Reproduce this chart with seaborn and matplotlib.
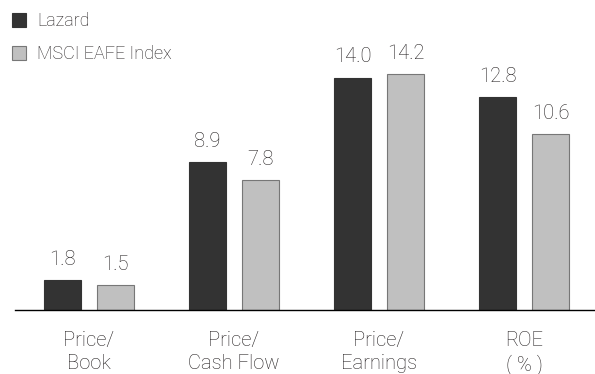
import matplotlib
matplotlib.use("Agg")
import matplotlib.pyplot as plt
import seaborn as sns
import pandas as pd
from matplotlib.patches import Patch

categories = ["Price/\nBook", "Price/\nCash Flow", "Price/\nEarnings", "ROE\n( % )"]
lazard = [1.8, 8.9, 14.0, 12.8]
msci = [1.5, 7.8, 14.2, 10.6]
series_names = ["Lazard", "MSCI EAFE Index"]
colors = ["#333333", "#c0c0c0"]

df = pd.DataFrame({
    "category": categories * 2,
    "value": lazard + msci,
    "series": [series_names[0]] * 4 + [series_names[1]] * 4,
})

sns.set_theme(style="white")
plt.rcParams["font.family"] = ["Roboto", "DejaVu Sans"]
plt.rcParams["font.weight"] = "light"
text_color = "#231f20"

fig = plt.figure(figsize=(5.95, 3.74), dpi=100)
ax = fig.add_axes([15 / 595, 64 / 374, 580 / 595, 310 / 374])

sns.barplot(data=df, x="category", y="value", hue="series", palette=colors,
            width=0.731, gap=0.30, ax=ax, legend=False, saturation=1)

for i, cont in enumerate(ax.containers):
    for bar in cont:
        bar.set_edgecolor("#333333" if i == 0 else "#777777")
        bar.set_linewidth(0.8)
    ax.bar_label(cont, fmt="%.1f", padding=8, fontsize=14.5, color=text_color)

ax.set_xlim(-0.51, 3.49)
ax.set_ylim(0, 18.67)
ax.set_xlabel("")
ax.set_ylabel("")
ax.set_yticks([])
ax.tick_params(axis="x", length=0, pad=15, labelsize=14.5, labelcolor=text_color)
for lbl in ax.get_xticklabels():
    lbl.set_linespacing(1.25)
for s in ["top", "left", "right"]:
    ax.spines[s].set_visible(False)
ax.spines["bottom"].set_color("#000000")
ax.spines["bottom"].set_linewidth(1.0)

handles = [Patch(facecolor=colors[0], edgecolor="#333333", linewidth=0.8),
           Patch(facecolor=colors[1], edgecolor="#777777", linewidth=0.8)]
fig.legend(handles, series_names, loc="upper left",
           bbox_to_anchor=(12 / 595, 1 - 12 / 374), frameon=False,
           fontsize=13, handlelength=0.78, handleheight=0.78,
           handletextpad=0.6, labelspacing=0.85, borderpad=0,
           borderaxespad=0, labelcolor=text_color)

fig.savefig("out.png", dpi=100)
